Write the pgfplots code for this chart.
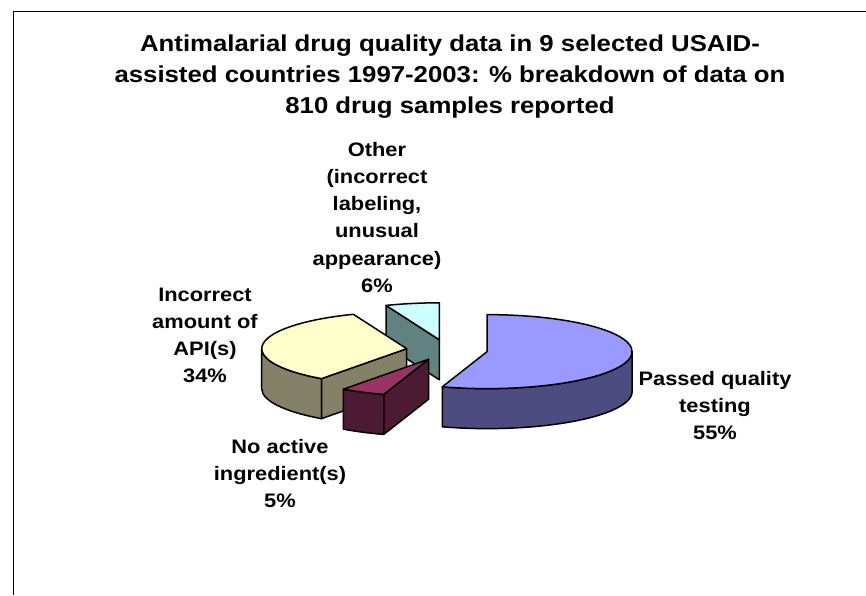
\documentclass[border=0pt]{standalone}
\usepackage{pgfplots}
\usepackage{pgfplotstable}
\pgfplotsset{compat=1.18}
\usepackage{fontspec}
\setmainfont{Liberation Sans}[FakeStretch=1.12]

\definecolor{ptop}{HTML}{9999FF}
\definecolor{pside}{HTML}{4C4C80}
\definecolor{natop}{HTML}{993366}
\definecolor{naside}{HTML}{4D1A33}
\definecolor{inctop}{HTML}{FFFFCC}
\definecolor{incside}{HTML}{858068}
\definecolor{othtop}{HTML}{CCFFFF}
\definecolor{othside}{HTML}{628282}

\pgfplotstableread{
category value
Passed 55
NoActive 5
Incorrect 34
Other 6
}\piedata

\pgfplotstablegetelem{0}{value}\of\piedata\edef\vA{\pgfplotsretval}
\pgfplotstablegetelem{1}{value}\of\piedata\edef\vB{\pgfplotsretval}
\pgfplotstablegetelem{2}{value}\of\piedata\edef\vC{\pgfplotsretval}
\pgfplotstablegetelem{3}{value}\of\piedata\edef\vD{\pgfplotsretval}

% angles: clockwise from 12 o'clock
\pgfmathsetmacro\bA{90}\pgfmathsetmacro\aA{\bA-3.6*\vA}
\pgfmathsetmacro\bB{\aA}\pgfmathsetmacro\aB{\bB-3.6*\vB}
\pgfmathsetmacro\bC{\aB}\pgfmathsetmacro\aC{\bC-3.6*\vC}
\pgfmathsetmacro\bD{\aC}\pgfmathsetmacro\aD{\bD-3.6*\vD}

\def\pcx{447}\def\pcy{245}\def\prx{145}\def\pry{37}\def\pdep{40}\def\pex{0.28}

\tikzset{edge/.style={draw=black,line width=1.5pt,line join=round},
  ttl/.style={anchor=base,inner sep=0pt,font=\fontsize{23}{31}\selectfont\bfseries},
  lbl/.style={anchor=base,inner sep=0pt,font=\fontsize{19.5}{27}\selectfont\bfseries}}

\newcommand\slicesetup[2]{%
 \pgfmathsetmacro\slA{#1}\pgfmathsetmacro\slB{#2}%
 \pgfmathsetmacro\slM{(\slA+\slB)/2}%
 \pgfmathsetmacro\ox{\pcx+\pex*\prx*cos(\slM)}%
 \pgfmathsetmacro\oy{\pcy+\pex*\pry*sin(\slM)}%
 \pgfmathsetmacro\oyb{\oy-\pdep}}
\newcommand\rimpt[3]{\pgfmathsetmacro#2{\ox+\prx*cos(#1)}\pgfmathsetmacro#3{\oy+\pry*sin(#1)}}
\newcommand\radialface[2]{\rimpt{#1}\qx\qy\pgfmathsetmacro\qyb{\qy-\pdep}%
 \filldraw[fill=#2,edge] (axis cs:\ox,\oy) -- (axis cs:\qx,\qy) -- (axis cs:\qx,\qyb) -- (axis cs:\ox,\oyb) -- cycle;}
\newcommand\rimface[3]{\rimpt{#1}\qx\qy\rimpt{#2}\wx\wy\pgfmathsetmacro\wyb{\wy-\pdep}%
 \filldraw[fill=#3,edge] (axis cs:\qx,\qy) arc[start angle=#1,end angle=#2,x radius=\prx pt,y radius=\pry pt] -- (axis cs:\wx,\wyb) arc[start angle=#2,end angle=#1,x radius=\prx pt,y radius=\pry pt] -- cycle;}
\newcommand\topface[1]{\rimpt{\slA}\qx\qy%
 \filldraw[fill=#1,edge] (axis cs:\ox,\oy) -- (axis cs:\qx,\qy) arc[start angle=\slA,end angle=\slB,x radius=\prx pt,y radius=\pry pt] -- cycle;}

\begin{document}
\begin{tikzpicture}
\begin{axis}[at={(0,0)},anchor=south west,width=866pt,height=595pt,scale only axis,
  xmin=0,xmax=866,ymin=0,ymax=595,hide axis,clip=false]
\pgfplotsextra{%
  \draw[line width=1.5pt] (axis cs:13.5,0) -- (axis cs:13.5,583.5) -- (axis cs:866,583.5);
  \slicesetup{\aD}{\bD}\radialface{\bD}{othside}\topface{othtop}%
  \slicesetup{\aC}{\bC}\rimface{-180}{\bC}{incside}\radialface{\bC}{incside}\topface{inctop}%
  \slicesetup{\aB}{\bB}\rimface{\aB}{\bB}{naside}\radialface{\bB}{naside}\topface{natop}%
  \slicesetup{\aA}{\bA}\rimface{\aA}{0}{pside}\topface{ptop}%
}
\node[ttl] at (axis cs:450,543) {Antimalarial drug quality data in 9 selected USAID-};
\node[ttl] at (axis cs:450,512) {assisted countries 1997-2003: \% breakdown of data on};
\node[ttl] at (axis cs:450,481) {810 drug samples reported};
\node[lbl] at (axis cs:377,438) {Other};
\node[lbl] at (axis cs:377,411) {(incorrect};
\node[lbl] at (axis cs:377,384) {labeling,};
\node[lbl] at (axis cs:377,357) {unusual};
\node[lbl] at (axis cs:377,330) {appearance)};
\node[lbl] at (axis cs:377,303) {6\%};
\node[lbl] at (axis cs:205,294) {Incorrect};
\node[lbl] at (axis cs:205,267) {amount of};
\node[lbl] at (axis cs:205,240) {API(s)};
\node[lbl] at (axis cs:205,213) {34\%};
\node[lbl] at (axis cs:280,142) {No active};
\node[lbl] at (axis cs:280,115) {ingredient(s)};
\node[lbl] at (axis cs:280,88) {5\%};
\node[lbl] at (axis cs:715,210) {Passed quality};
\node[lbl] at (axis cs:715,183) {testing};
\node[lbl] at (axis cs:715,156) {55\%};
\end{axis}
\pgfresetboundingbox
\path (0,0) rectangle (866pt,595pt);
\end{tikzpicture}
\end{document}
